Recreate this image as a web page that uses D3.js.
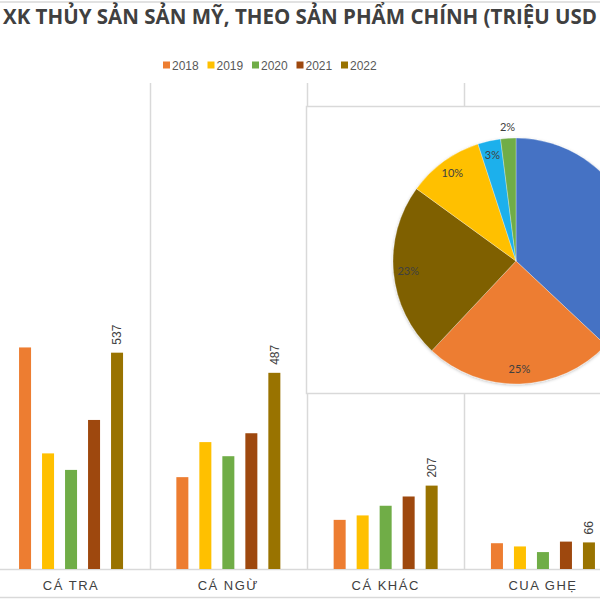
<!DOCTYPE html>
<html><head><meta charset="utf-8">
<script src="https://cdn.jsdelivr.net/npm/d3@7"></script>
<style>html,body{margin:0;padding:0;background:#fff;}svg{display:block;}</style>
</head><body>
<svg id="chart" width="600" height="600"></svg>
<script>
// ---------- data ----------
const categories = ["CÁ TRA", "CÁ NGỪ", "CÁ KHÁC", "CUA GHẸ"];
const years = ["2018", "2019", "2020", "2021", "2022"];
const v2018 = [550, 228, 122, 64];
const v2019 = [287, 315, 133, 56];
const v2020 = [246, 280, 157, 42];
const v2021 = [370, 337, 180, 68];
const v2022 = [537, 487, 207, 66];
const yearColors = ["#ED7D31", "#FFC000", "#70AD47", "#9E480E", "#997300"];
const pieNames = ["Tôm", "Cá tra", "Cá ngừ", "Cá khác", "Cua ghẹ", "Khác"];
const pieValues = [37, 25, 23, 10, 3, 2];
const pieColors = ["#4472C4", "#ED7D31", "#7F6000", "#FFC000", "#1CB0EC", "#70AD47"];
const titleText = "XK THỦY SẢN SẢN MỸ, THEO SẢN PHẨM CHÍNH (TRIỆU USD";

const series = [v2018, v2019, v2020, v2021, v2022];

const svg = d3.select("#chart");
const W = 600, H = 600;
const grid = "#d9d9d9";

// frame lines
svg.append("line").attr("x1", 0).attr("x2", W).attr("y1", 2).attr("y2", 2).attr("stroke", grid).attr("stroke-width", 1.5);
svg.append("line").attr("x1", 0).attr("x2", W).attr("y1", 597.5).attr("y2", 597.5).attr("stroke", grid).attr("stroke-width", 1.5);

// title (fit to span)
const titleFont = "'Open Sans', sans-serif";
const tmp = svg.append("text").attr("font-family", titleFont).attr("font-weight", 700).attr("font-size", 16).text(titleText);
const wPart = tmp.node().getComputedTextLength();
tmp.remove();
const titleSize = 16 * 594 / wPart;
svg.append("text").attr("x", 3).attr("y", 24)
  .attr("font-family", titleFont).attr("font-weight", 700).attr("font-size", titleSize)
  .attr("fill", "#404040").text(titleText);

// legend
const legend = svg.append("g").attr("font-family", "'Liberation Sans', Arial, sans-serif").attr("font-size", 12).attr("fill", "#595959");
const legX = d3.scalePoint().domain(years).range([163, 341]);
years.forEach((yr, i) => {
  legend.append("rect").attr("x", legX(yr)).attr("y", 61.5).attr("width", 7).attr("height", 7).attr("fill", yearColors[i]);
  legend.append("text").attr("x", legX(yr) + 9).attr("y", 69.5).text(yr);
});

// scales
const baseY = 569;
const x0 = d3.scaleBand().domain(categories).range([-7.6, 621.6]).paddingInner(0).paddingOuter(0);
const x1 = d3.scaleBand().domain(years).range([(x0.bandwidth() - 104) / 2, (x0.bandwidth() + 104) / 2]).paddingInner(0.478).paddingOuter(0);
const y = d3.scaleLinear().domain([0, 600]).range([baseY, baseY - 241.7]);

// vertical separators
categories.slice(1).forEach(c => {
  svg.append("line").attr("x1", Math.round(x0(c)) + 0.5).attr("x2", Math.round(x0(c)) + 0.5)
    .attr("y1", 83).attr("y2", baseY).attr("stroke", grid).attr("stroke-width", 1.5);
});
// baseline
svg.append("line").attr("x1", 0).attr("x2", W).attr("y1", baseY + 0.5).attr("y2", baseY + 0.5).attr("stroke", grid).attr("stroke-width", 1.5);

// bars
const gBars = svg.append("g");
categories.forEach((c, ci) => {
  const g = gBars.append("g").attr("transform", `translate(${x0(c)},0)`);
  years.forEach((yr, yi) => {
    const v = series[yi][ci];
    g.append("rect").attr("x", x1(yr)).attr("width", x1.bandwidth())
      .attr("y", y(v)).attr("height", baseY - y(v)).attr("fill", yearColors[yi]);
  });
  // label on 2022
  const v = v2022[ci];
  const lx = x1("2022") + x1.bandwidth() / 2;
  g.append("text").attr("transform", `translate(${lx},${y(v) - 8}) rotate(-90)`)
    .attr("dy", "0.35em").attr("text-anchor", "start")
    .attr("font-family", "'Liberation Sans', Arial, sans-serif").attr("font-size", 12)
    .attr("fill", "#404040").text(v);
});

// category labels
categories.forEach(c => {
  svg.append("text").attr("x", x0(c) + x0.bandwidth() / 2).attr("y", 590)
    .attr("text-anchor", "middle").attr("font-family", "'Liberation Sans', Arial, sans-serif")
    .attr("font-size", 13).attr("letter-spacing", 1.5).attr("fill", "#404040").text(c);
});

// pie box
svg.append("rect").attr("x", 306.5).attr("y", 106.5).attr("width", 320).attr("height", 287)
  .attr("fill", "#fff").attr("stroke", grid).attr("stroke-width", 1.5);

const defs = svg.append("defs");
const f = defs.append("filter").attr("id", "sh").attr("x", "-20%").attr("y", "-20%").attr("width", "140%").attr("height", "140%");
f.append("feDropShadow").attr("dx", 0).attr("dy", 1).attr("stdDeviation", 1.5).attr("flood-color", "#000").attr("flood-opacity", 0.25);

const cx = 516, cy = 261, r = 123;
const pie = d3.pie().sort(null).value(d => d)(pieValues);
const arc = d3.arc().innerRadius(0).outerRadius(r);
const gPie = svg.append("g").attr("transform", `translate(${cx},${cy})`);
gPie.append("g").attr("filter", "url(#sh)").selectAll("path").data(pie).join("path")
  .attr("d", arc).attr("fill", (d, i) => pieColors[i]).attr("stroke", "#fff").attr("stroke-width", 0.5)
  .attr("stroke-opacity", 0.6);
const labIn = d3.arc().innerRadius(r * 0.88).outerRadius(r * 0.88);
const labOut = d3.arc().innerRadius(r + 11).outerRadius(r + 11);
// labels that fall outside the visible (cropped) area are not drawn, as in the reference
const labelPos = d => (d.data < 3 ? labOut : labIn).centroid(d);
gPie.selectAll("text.pl").data(pie.filter(d => cx + labelPos(d)[0] + 12 < W)).join("text").attr("class", "pl")
  .attr("transform", d => `translate(${labelPos(d)})`)
  .attr("text-anchor", "middle").attr("dy", "0.35em")
  .attr("font-family", "Lato, sans-serif").attr("font-size", 11).attr("fill", "#404040")
  .text(d => d.data + "%");
</script>
</body></html>
